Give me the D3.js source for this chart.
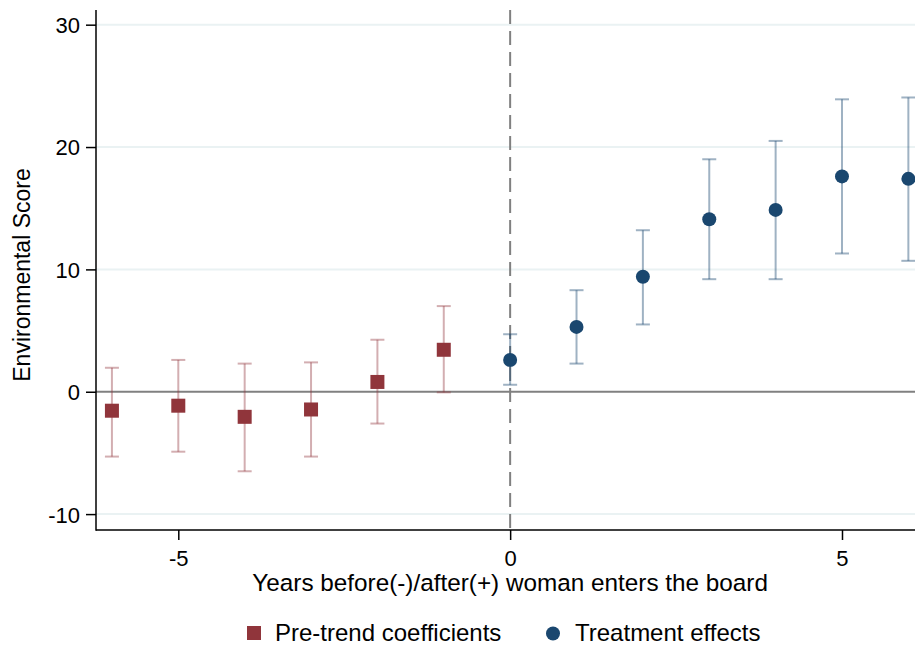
<!DOCTYPE html>
<html lang="en">
<head>
    <meta charset="utf-8">
    <title>Event study: Environmental Score</title>
    <style>
        body { margin: 0; background: #fff; font-family: "Liberation Sans", Arial, sans-serif; }
    </style>
</head>
<body>
<script src="https://d3js.org/d3.v7.min.js"></script>
<script>
// data
var preYears = [-6, -5, -4, -3, -2, -1];
var preCoef  = [-1.55, -1.14, -2.05, -1.45, 0.8, 3.43];
var preLow   = [-5.3, -4.9, -6.5, -5.3, -2.6, -0.05];
var preHigh  = [1.96, 2.6, 2.3, 2.4, 4.25, 7.0];

var postYears = [0, 1, 2, 3, 4, 5, 6];
var postCoef  = [2.6, 5.3, 9.4, 14.1, 14.86, 17.6, 17.4];
var postLow   = [0.57, 2.3, 5.5, 9.2, 9.2, 11.3, 10.7];
var postHigh  = [4.7, 8.3, 13.2, 19.0, 20.5, 23.9, 24.05];

var xTicks = [-5, 0, 5];
var yTicks = [-10, 0, 10, 20, 30];

var w = 915, h = 647;
var mLeft = 96, mRight = 915, mTop = 10, mBottom = 530;

var red = "#90353b", redCI = "rgba(144,53,59,0.4)";
var blue = "#1a476f", blueCI = "rgba(26,71,111,0.42)";

var x = d3.scaleLinear().domain([-6.24, 6.1]).range([mLeft, mRight]);
var y = d3.scaleLinear().domain([-11.3, 31.2]).range([mBottom, mTop]);

var svg = d3.select("body").append("svg")
    .attr("width", w).attr("height", h)
    .style("font-family", "'Liberation Sans', Arial, sans-serif");

// gridlines
svg.append("g").selectAll("line")
    .data(yTicks.filter(function(d) { return d !== 0; }))
    .enter().append("line")
    .attr("x1", mLeft).attr("x2", mRight)
    .attr("y1", function(d) { return y(d); }).attr("y2", function(d) { return y(d); })
    .style("stroke", "#eaf2f3").style("stroke-width", 2);

// zero line
svg.append("line")
    .attr("x1", mLeft).attr("x2", mRight)
    .attr("y1", y(0)).attr("y2", y(0))
    .style("stroke", "#808080").style("stroke-width", 2);

// vertical dashed line at 0
svg.append("line")
    .attr("x1", x(0)).attr("x2", x(0))
    .attr("y1", mTop).attr("y2", mBottom)
    .style("stroke", "#808080").style("stroke-width", 2)
    .style("stroke-dasharray", "14,7");

// axes
var yAxis = d3.axisLeft(y).tickValues(yTicks).tickFormat(String).tickSize(10).tickPadding(6);
var xAxis = d3.axisBottom(x).tickValues(xTicks).tickFormat(String).tickSize(10).tickPadding(10);

var gy = svg.append("g").attr("transform", "translate(" + mLeft + ",0)").call(yAxis);
var gx = svg.append("g").attr("transform", "translate(0," + mBottom + ")").call(xAxis);

[gx, gy].forEach(function(g) {
    g.select(".domain").remove();
    g.selectAll(".tick line").style("stroke", "#000").style("stroke-width", 1.5);
    g.selectAll(".tick text")
        .style("font-family", "'Liberation Sans', Arial, sans-serif")
        .style("font-size", "22px").style("fill", "#000");
});
gy.selectAll(".tick text").attr("dy", "0.36em");

svg.append("line").attr("x1", mLeft).attr("x2", mLeft).attr("y1", mTop).attr("y2", mBottom + 0.75)
    .style("stroke", "#000").style("stroke-width", 1.5);
svg.append("line").attr("x1", mLeft).attr("x2", mRight).attr("y1", mBottom).attr("y2", mBottom)
    .style("stroke", "#000").style("stroke-width", 1.5);

// error bars
function errorBars(years, low, high, color) {
    var g = svg.append("g");
    var cap = 7;
    years.forEach(function(yr, i) {
        var cx = x(yr);
        g.append("line").attr("x1", cx).attr("x2", cx)
            .attr("y1", y(low[i])).attr("y2", y(high[i]))
            .style("stroke", color).style("stroke-width", 2);
        [low[i], high[i]].forEach(function(v) {
            g.append("line").attr("x1", cx - cap).attr("x2", cx + cap)
                .attr("y1", y(v)).attr("y2", y(v))
                .style("stroke", color).style("stroke-width", 2);
        });
    });
}
errorBars(preYears, preLow, preHigh, redCI);
errorBars(postYears, postLow, postHigh, blueCI);

// markers
svg.append("g").selectAll("rect")
    .data(preYears).enter().append("rect")
    .attr("x", function(d) { return x(d) - 7; })
    .attr("y", function(d, i) { return y(preCoef[i]) - 7; })
    .attr("width", 14).attr("height", 14)
    .attr("fill", red);

svg.append("g").selectAll("circle")
    .data(postYears).enter().append("circle")
    .attr("cx", function(d) { return x(d); })
    .attr("cy", function(d, i) { return y(postCoef[i]); })
    .attr("r", 7)
    .attr("fill", blue);

// axis titles
svg.append("text")
    .attr("x", x(0)).attr("y", 591)
    .attr("text-anchor", "middle")
    .style("font-size", "24.3px")
    .text("Years before(-)/after(+) woman enters the board");

svg.append("text")
    .attr("transform", "translate(30,275) rotate(-90)")
    .attr("text-anchor", "middle")
    .style("font-size", "23px")
    .text("Environmental Score");

// legend
var leg = svg.append("g");
leg.append("rect").attr("x", 247).attr("y", 626).attr("width", 14).attr("height", 14).attr("fill", red);
leg.append("text").attr("x", 275).attr("y", 641).style("font-size", "24px").text("Pre-trend coefficients");
leg.append("circle").attr("cx", 553).attr("cy", 633.5).attr("r", 7).attr("fill", blue);
leg.append("text").attr("x", 575).attr("y", 641).style("font-size", "24px").text("Treatment effects");
</script>
</body>
</html>
